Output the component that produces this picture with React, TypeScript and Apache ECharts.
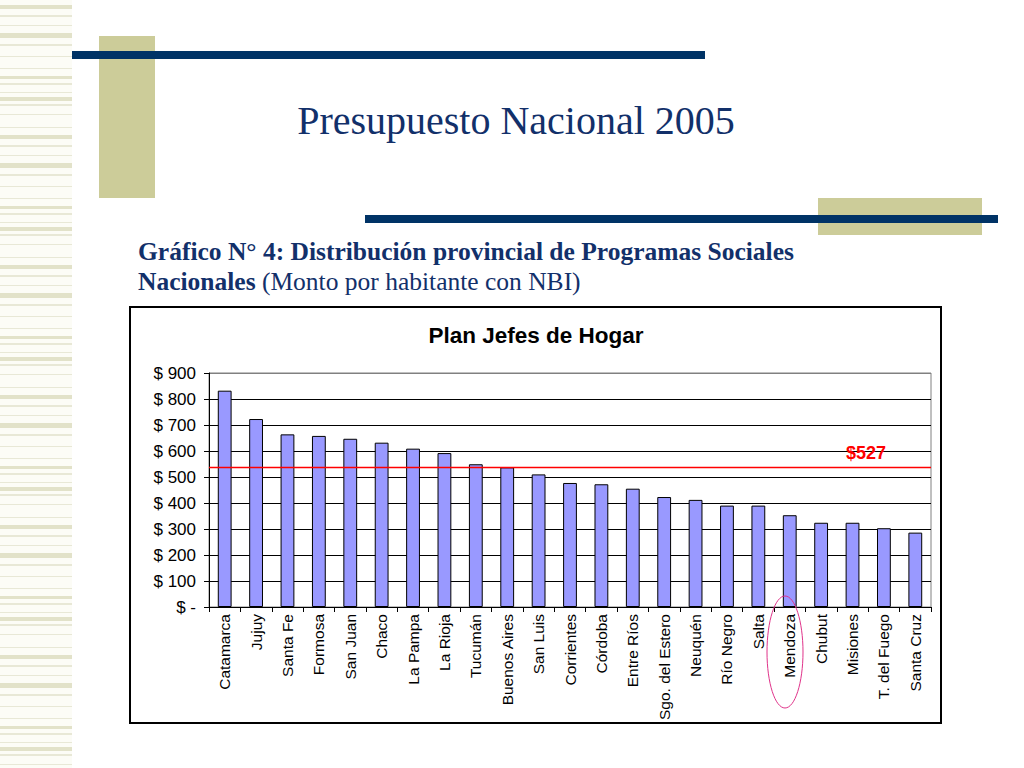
import React, { useEffect, useRef } from "react";
import * as echarts from "echarts";

const provinces = [
  "Catamarca", "Jujuy", "Santa Fe", "Formosa", "San Juan", "Chaco", "La Pampa",
  "La Rioja", "Tucumán", "Buenos Aires", "San Luis", "Corrientes", "Córdoba",
  "Entre Ríos", "Sgo. del Estero", "Neuquén", "Río Negro", "Salta", "Mendoza",
  "Chubut", "Misiones", "T. del Fuego", "Santa Cruz",
];
const montos = [
  832, 723, 664, 658, 647, 632, 609, 592, 549, 537, 510, 477, 472, 455, 423,
  412, 390, 390, 353, 324, 324, 303, 286,
];
const yTicks = [0, 100, 200, 300, 400, 500, 600, 700, 800, 900];
const promedioLabel = "$527";
const promedioLine = 538;

const stripePattern: [number, number, string][] = [
  [0, 4, "#E2E2C9"], [10, 2, "#E8E8D6"], [20, 1, "#E8E8D6"], [28, 5, "#E2E2C9"],
  [39, 2, "#E8E8D6"], [51, 1, "#E8E8D6"], [63, 1, "#E8E8D6"], [71, 3, "#E2E2C9"],
  [78, 2, "#E8E8D6"], [87, 1, "#E8E8D6"], [92, 4, "#E2E2C9"], [99, 2, "#E8E8D6"],
  [109, 1, "#E8E8D6"], [122, 1, "#E8E8D6"],
];

export default function App() {
  const ref = useRef<HTMLDivElement>(null);
  useEffect(() => {
    if (!ref.current) return;
    const chart = echarts.init(ref.current, null, { renderer: "svg" });

    const stripes: any[] = [];
    for (let base = 5; base < 768; base += 130) {
      for (const [off, h, c] of stripePattern) {
        if (base + off < 768) {
          stripes.push({
            type: "rect",
            shape: { x: 0, y: base + off, width: 72, height: h },
            style: { fill: c },
            silent: true,
          });
        }
      }
    }

    const navy = "#003366";
    const beige = "#CCCC99";
    const textNavy = "#12306A";
    const sans = '"Liberation Sans", Arial, sans-serif';

    const splitColors = yTicks.map((v) => (v === 900 ? "#808080" : "#000000"));

    chart.setOption({
      animation: false,
      backgroundColor: "#ffffff",
      graphic: [
        { type: "rect", shape: { x: 0, y: 0, width: 72, height: 768 }, style: { fill: "#FCFCF6" }, silent: true },
        ...stripes,
        { type: "rect", shape: { x: 99, y: 36, width: 56, height: 162 }, style: { fill: beige } },
        { type: "rect", shape: { x: 72, y: 51, width: 633, height: 8 }, style: { fill: navy } },
        { type: "rect", shape: { x: 818, y: 198, width: 164, height: 37 }, style: { fill: beige } },
        { type: "rect", shape: { x: 365, y: 215, width: 633, height: 8 }, style: { fill: navy } },
        {
          type: "text",
          x: 516,
          y: 120,
          style: {
            text: "Presupuesto Nacional 2005",
            fill: textNavy,
            font: '40px "Liberation Serif", "DejaVu Serif", serif',
            align: "center",
            verticalAlign: "middle",
          },
        },
        {
          type: "text",
          x: 138,
          y: 251,
          style: {
            text: "Gráfico N° 4: Distribución provincial de Programas Sociales",
            fill: textNavy,
            font: 'bold 25.5px "Liberation Serif", serif',
            align: "left",
            verticalAlign: "middle",
          },
        },
        {
          type: "text",
          x: 138,
          y: 281,
          style: {
            text: "{b|Nacionales}{n| (Monto por habitante con NBI)}",
            align: "left",
            verticalAlign: "middle",
            rich: {
              b: { fill: textNavy, font: 'bold 25.5px "Liberation Serif", serif' },
              n: { fill: textNavy, font: '25.5px "Liberation Serif", serif' },
            },
          },
        },
        {
          type: "rect",
          shape: { x: 130, y: 307, width: 811, height: 416 },
          style: { fill: "none", stroke: "#000000", lineWidth: 2 },
          z: 0,
        },
        {
          type: "text",
          x: 536,
          y: 335,
          style: {
            text: "Plan Jefes de Hogar",
            fill: "#000000",
            font: 'bold 22.5px "Liberation Sans", Arial, sans-serif',
            align: "center",
            verticalAlign: "middle",
          },
        },
        {
          type: "ellipse",
          shape: { cx: 785, cy: 652, rx: 18, ry: 56 },
          style: { fill: "none", stroke: "#E0338A", lineWidth: 1 },
          z: 100,
        },
      ],
      grid: {
        left: 209,
        right: 93,
        top: 373,
        bottom: 161,
        show: true,
        borderColor: "#808080",
        borderWidth: 1,
        backgroundColor: "transparent",
      },
      xAxis: {
        type: "category",
        data: provinces,
        axisLine: { lineStyle: { color: "#000", width: 1 } },
        axisTick: { show: true, length: 5, lineStyle: { color: "#000" } },
        axisLabel: {
          rotate: 90,
          interval: 0,
          margin: 7,
          color: "#000",
          fontSize: 15.5,
          fontFamily: sans,
        },
      },
      yAxis: {
        type: "value",
        min: 0,
        max: 900,
        interval: 100,
        axisLine: { show: true, lineStyle: { color: "#000", width: 1 } },
        axisTick: { show: true, length: 5, lineStyle: { color: "#000" } },
        splitLine: { show: true, lineStyle: { color: splitColors, width: 1 } },
        axisLabel: {
          color: "#000",
          fontSize: 17,
          margin: 13,
          fontFamily: sans,
          formatter: (v: number) => (v === 0 ? "$ -" : "$ " + v),
        },
      },
      series: [
        {
          type: "bar",
          data: montos,
          barWidth: "44%",
          itemStyle: { color: "#9999FF", borderColor: "#000", borderWidth: 1 },
          markLine: {
            silent: true,
            symbol: "none",
            z: 10,
            data: [{ yAxis: promedioLine, lineStyle: { color: "#FF0000", width: 1.3, type: "solid" } }],
            lineStyle: { color: "#FF0000", width: 1.3, type: "solid", opacity: 1 },
            label: {
              show: true,
              formatter: promedioLabel,
              position: "insideEndTop",
              color: "#FF0000",
              fontWeight: "bold",
              fontSize: 18,
              fontFamily: sans,
              padding: [0, 40, 0, 0],
              distance: 5,
            },
          },
        },
      ],
    });
    return () => chart.dispose();
  }, []);
  return (
    <div
      ref={ref}
      style={{ position: "fixed", left: 0, top: 0, width: 1024, height: 768 }}
    />
  );
}
